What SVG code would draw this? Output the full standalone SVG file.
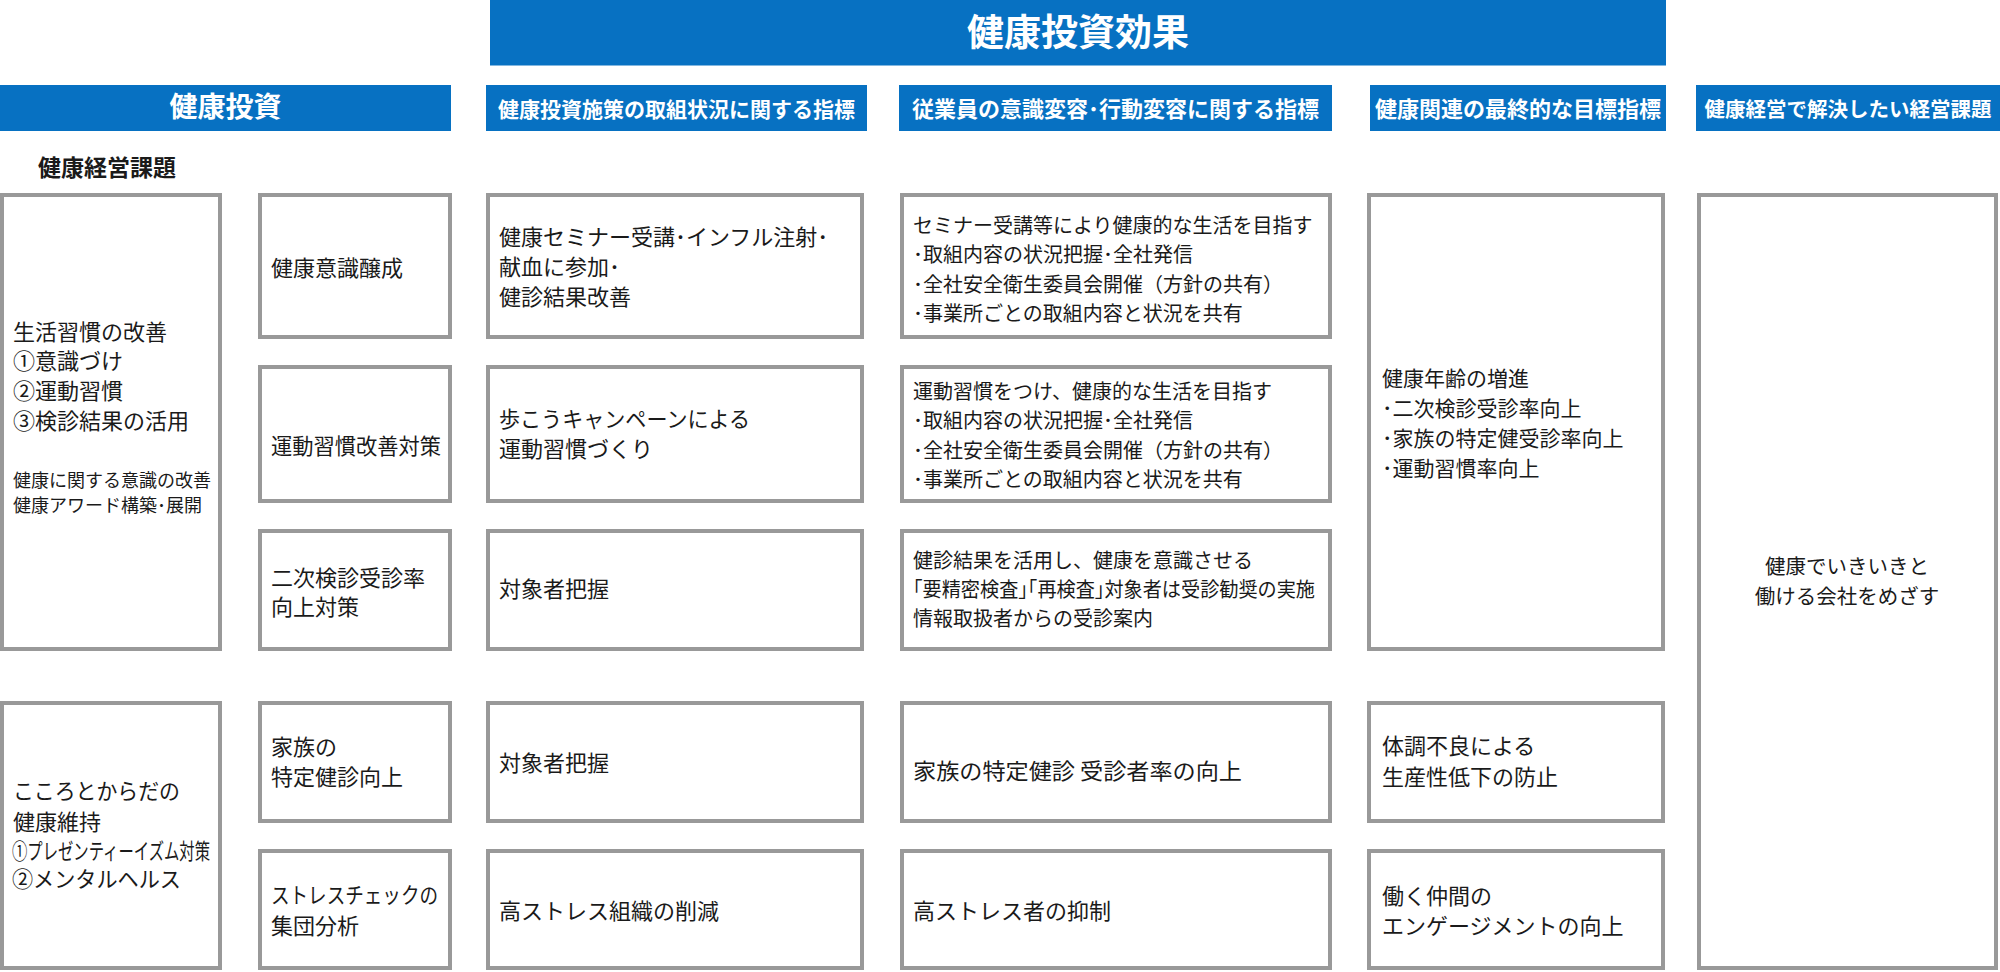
<svg xmlns="http://www.w3.org/2000/svg" width="2000" height="972" viewBox="0 0 2000 972">
<style>
text{font-family:"Noto Sans CJK JP","Noto Sans CJK SC",sans-serif;fill:#1a1a1a}
.bar{fill:#0771c2}
.ht{fill:#fff;font-weight:700;text-anchor:middle}
.box{fill:#fff;stroke:#999;stroke-width:4}
.t22{font-size:22px}
.t20{font-size:20px}
.t21{font-size:21px}
.t18{font-size:18px}
.mid{text-anchor:middle}
</style>
<rect width="2000" height="972" fill="#fff"/>
<g id="title">
<rect class="bar" x="490" y="0" width="1176" height="65.5"/>
<text class="ht" x="1078" y="46" font-size="37">健康投資効果</text>
</g>
<g id="headers">
<rect class="bar" x="0" y="85" width="451" height="46"/>
<text class="ht" x="225.5" y="116.5" font-size="28">健康投資</text>
<rect class="bar" x="486" y="85" width="381" height="46"/>
<text class="ht" x="676.5" y="116.5" font-size="21">健康投資施策の取組状況に関する指標</text>
<rect class="bar" x="899" y="85" width="433" height="46"/>
<text class="ht" x="1115.5" y="116.5" font-size="22">従業員の意識変容･行動変容に関する指標</text>
<rect class="bar" x="1370" y="85" width="296" height="46"/>
<text class="ht" x="1518" y="116.5" font-size="22">健康関連の最終的な目標指標</text>
<rect class="bar" x="1696" y="85" width="304" height="46"/>
<text class="ht" x="1848" y="116.5" font-size="20.5">健康経営で解決したい経営課題</text>
<text x="38" y="175.5" font-size="23" font-weight="700">健康経営課題</text>
</g>
<g id="connectors"></g>
<g id="a1">
<rect class="box" x="2" y="195" width="218" height="454"/>
<text class="t22" x="13" y="339.5">生活習慣の改善</text>
<text class="t22" x="13" y="368.5">①意識づけ</text>
<text class="t22" x="13" y="398.5">②運動習慣</text>
<text class="t22" x="13" y="428.5">③検診結果の活用</text>
<text class="t18" x="13" y="486.5">健康に関する意識の改善</text>
<text class="t18" x="13" y="511.5">健康アワード構築･展開</text>
</g>
<g id="a2">
<rect class="box" x="2" y="703" width="218" height="265"/>
<text class="t22" x="13" y="798.5" textLength="167" lengthAdjust="spacingAndGlyphs">こころとからだの</text>
<text class="t22" x="13" y="829.5">健康維持</text>
<text class="t22" x="12" y="858.5" textLength="198" lengthAdjust="spacingAndGlyphs">①プレゼンティーイズム対策</text>
<text class="t22" x="12" y="886.5" textLength="169" lengthAdjust="spacingAndGlyphs">②メンタルヘルス</text>
</g>
<g id="b1">
<rect class="box" x="260" y="195" width="190" height="142"/>
<text class="t22" x="271" y="275.5">健康意識醸成</text>
</g>
<g id="b2">
<rect class="box" x="260" y="367" width="190" height="134"/>
<text class="t22" x="271" y="453.5" textLength="170" lengthAdjust="spacingAndGlyphs">運動習慣改善対策</text>
</g>
<g id="b3">
<rect class="box" x="260" y="531" width="190" height="118"/>
<text class="t22" x="271" y="585.5">二次検診受診率</text>
<text class="t22" x="271" y="615">向上対策</text>
</g>
<g id="b4">
<rect class="box" x="260" y="703" width="190" height="118"/>
<text class="t22" x="271" y="754.5">家族の</text>
<text class="t22" x="271" y="785">特定健診向上</text>
</g>
<g id="b5">
<rect class="box" x="260" y="851" width="190" height="117"/>
<text class="t22" x="271" y="903" textLength="167" lengthAdjust="spacingAndGlyphs">ストレスチェックの</text>
<text class="t22" x="271" y="933.5">集団分析</text>
</g>
<g id="c1">
<rect class="box" x="488" y="195" width="374" height="142"/>
<text class="t22" x="499" y="244.5">健康セミナー受講･インフル注射･</text>
<text class="t22" x="499" y="275">献血に参加･</text>
<text class="t22" x="499" y="304.5">健診結果改善</text>
</g>
<g id="c2">
<rect class="box" x="488" y="367" width="374" height="134"/>
<text class="t22" x="499" y="427" textLength="251" lengthAdjust="spacingAndGlyphs">歩こうキャンペーンによる</text>
<text class="t22" x="499" y="457">運動習慣づくり</text>
</g>
<g id="c3">
<rect class="box" x="488" y="531" width="374" height="118"/>
<text class="t22" x="499" y="597">対象者把握</text>
</g>
<g id="c4">
<rect class="box" x="488" y="703" width="374" height="118"/>
<text class="t22" x="499" y="771">対象者把握</text>
</g>
<g id="c5">
<rect class="box" x="488" y="851" width="374" height="117"/>
<text class="t22" x="499" y="919">高ストレス組織の削減</text>
</g>
<g id="d1">
<rect class="box" x="902" y="195" width="428" height="142"/>
<text class="t20" x="913" y="232.5">セミナー受講等により健康的な生活を目指す</text>
<text class="t20" x="913" y="262">･取組内容の状況把握･全社発信</text>
<text class="t20" x="913" y="291.5">･全社安全衛生委員会開催（方針の共有）</text>
<text class="t20" x="913" y="321">･事業所ごとの取組内容と状況を共有</text>
</g>
<g id="d2">
<rect class="box" x="902" y="367" width="428" height="134"/>
<text class="t20" x="913" y="398.5">運動習慣をつけ、健康的な生活を目指す</text>
<text class="t20" x="913" y="428">･取組内容の状況把握･全社発信</text>
<text class="t20" x="913" y="457.5">･全社安全衛生委員会開催（方針の共有）</text>
<text class="t20" x="913" y="487">･事業所ごとの取組内容と状況を共有</text>
</g>
<g id="d3">
<rect class="box" x="902" y="531" width="428" height="118"/>
<text class="t20" x="913" y="567.5">健診結果を活用し、健康を意識させる</text>
<text class="t20" x="913" y="596.5" textLength="402" lengthAdjust="spacingAndGlyphs">｢要精密検査｣｢再検査｣対象者は受診勧奨の実施</text>
<text class="t20" x="913" y="625.5">情報取扱者からの受診案内</text>
</g>
<g id="d4">
<rect class="box" x="902" y="703" width="428" height="118"/>
<text class="t22" x="913" y="778.5" textLength="329" lengthAdjust="spacingAndGlyphs">家族の特定健診 受診者率の向上</text>
</g>
<g id="d5">
<rect class="box" x="902" y="851" width="428" height="117"/>
<text class="t22" x="913" y="918.5">高ストレス者の抑制</text>
</g>
<g id="e1">
<rect class="box" x="1369" y="195" width="294" height="454"/>
<text class="t21" x="1382" y="385.5">健康年齢の増進</text>
<text class="t21" x="1382" y="415.5">･二次検診受診率向上</text>
<text class="t21" x="1382" y="445.5">･家族の特定健受診率向上</text>
<text class="t21" x="1382" y="475.5">･運動習慣率向上</text>
</g>
<g id="e4">
<rect class="box" x="1369" y="703" width="294" height="118"/>
<text class="t22" x="1382" y="754">体調不良による</text>
<text class="t22" x="1382" y="785">生産性低下の防止</text>
</g>
<g id="e5">
<rect class="box" x="1369" y="851" width="294" height="117"/>
<text class="t22" x="1382" y="903.5">働く仲間の</text>
<text class="t22" x="1382" y="933.5">エンゲージメントの向上</text>
</g>
<g id="f1">
<rect class="box" x="1699" y="195" width="297" height="773"/>
<text class="mid" x="1847" y="573.5" font-size="20.5">健康でいきいきと</text>
<text class="mid" x="1847" y="603.5" font-size="20.5">働ける会社をめざす</text>
</g>
</svg>
